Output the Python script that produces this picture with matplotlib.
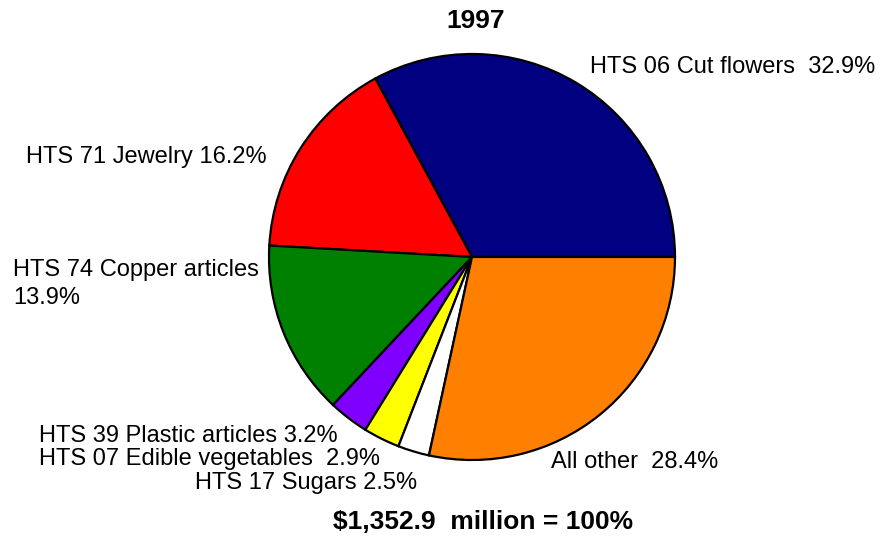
import matplotlib
matplotlib.use("Agg")
import matplotlib.pyplot as plt

# 1997 import shares, counterclockwise from 3 o'clock
labels = ["HTS 06 Cut flowers  32.9%", "HTS 71 Jewelry 16.2%",
          "HTS 74 Copper articles\n13.9%", "HTS 39 Plastic articles 3.2%",
          "HTS 07 Edible vegetables  2.9%", "HTS 17 Sugars 2.5%",
          "All other  28.4%"]
shares = [32.9, 16.2, 13.9, 3.2, 2.9, 2.5, 28.4]
colors = ["#000080", "#FF0000", "#008000", "#8000FF", "#FFFF00", "#FFFFFF", "#FF8000"]
title = "1997"
total = "$1,352.9  million = 100%"

plt.rcParams["font.family"] = ["Liberation Sans", "DejaVu Sans"]

W, H = 880, 538
fig = plt.figure(figsize=(W / 100, H / 100), dpi=100)
ax = fig.add_axes([0, 0, 1, 1])

# y axis runs downward, so counterclock=False draws counterclockwise on screen
ax.pie(shares, colors=colors, startangle=0, counterclock=False,
       center=(472, 257), radius=203, frame=True,
       wedgeprops=dict(edgecolor="black", linewidth=1.6))
ax.set_xlim(0, W)
ax.set_ylim(H, 0)
ax.set_aspect("auto")
ax.axis("off")

# label anchors (pixel positions, y downward)
pos = [(590, 67), (26, 157), (13, 284), (39, 436), (39, 459), (195, 483), (551, 462)]
for lab, (x, y) in zip(labels, pos):
    ax.text(x, y, lab, ha="left", va="center", fontsize=17, color="black",
            linespacing=1.3)

ax.text(476, 21, title, ha="center", va="center", fontsize=19, fontweight="bold")
ax.text(483, 522, total, ha="center", va="center", fontsize=19, fontweight="bold")

fig.savefig("out.png", dpi=100)
